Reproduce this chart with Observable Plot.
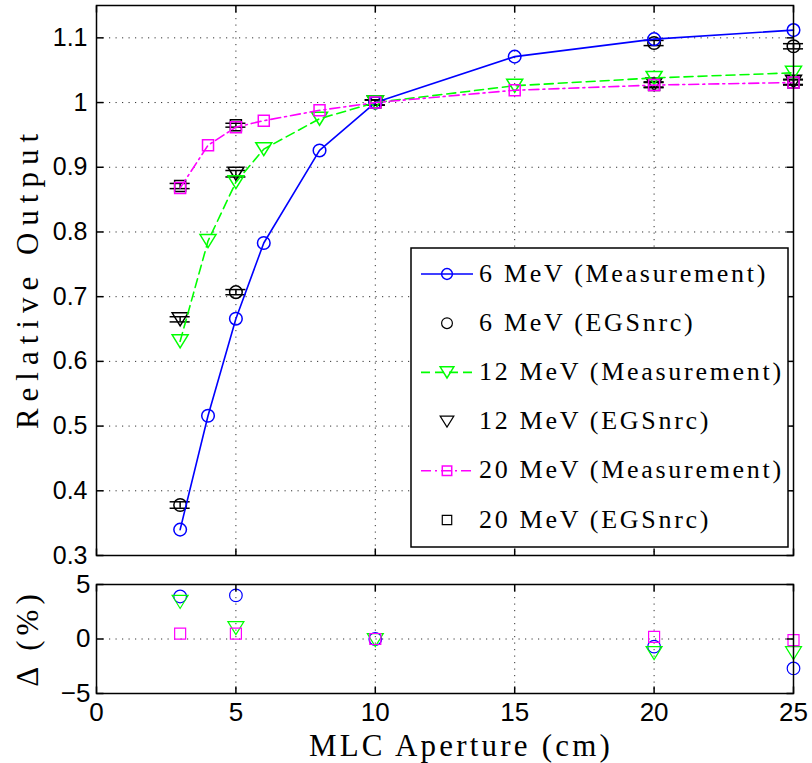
<!DOCTYPE html>
<html><head><meta charset="utf-8">
<script src="https://cdn.jsdelivr.net/npm/d3@7"></script>
<script src="https://cdn.jsdelivr.net/npm/@observablehq/plot@0.6"></script>
<style>
body{margin:0;background:#fff;}
#chart{position:relative;width:812px;height:763px;background:#fff;}
#chart > svg{position:absolute;left:0;}
.lbl{position:absolute;font-family:'Liberation Serif';line-height:1;white-space:nowrap;color:#000;}
</style></head><body><div id="chart"></div>
<script>
// ---- data ----
const apertures = [3, 4, 5, 6, 8, 10, 15, 20, 25];
const meas6  = [0.340, 0.516, 0.666, 0.783, 0.926, 1.000, 1.071, 1.098, 1.112];
const meas12 = [0.631, 0.786, 0.877, 0.928, 0.975, 1.000, 1.026, 1.038, 1.046];
const meas20 = [0.868, 0.934, 0.962, 0.972, 0.988, 1.000, 1.019, 1.027, 1.031];
const egsApertures = [3, 5, 10, 20, 25];
const egs6  = [0.378, 0.707, 1.000, 1.092, 1.087];
const egs12 = [0.665, 0.890, 1.000, 1.028, 1.032];
const egs20 = [0.871, 0.965, 1.000, 1.027, 1.031];
const egsErr6  = [0.005, 0.004, 0.004, 0.004, 0.004];
const egsErr12 = [0.004, 0.005, 0.004, 0.004, 0.004];
const egsErr20 = [0.004, 0.003, 0.004, 0.004, 0.004];
const diffApertures = [3, 5, 10, 20, 25];
const diff6  = [3.9, 4.0, 0.0, -0.7, -2.7];
const diff12 = [3.4, 1.0, -0.1, -1.3, -1.3];
const diff20 = [0.5, 0.5, 0.0, 0.2, -0.1];
const xTicks = [0, 5, 10, 15, 20, 25];
const xTickLabels = ["0", "5", "10", "15", "20", "25"];
const yTicks = [0.3, 0.4, 0.5, 0.6, 0.7, 0.8, 0.9, 1.0, 1.1];
const yTickLabels = ["0.3", "0.4", "0.5", "0.6", "0.7", "0.8", "0.9", "1", "1.1"];
const dTicks = [-5, 0, 5];
const dTickLabels = ["\u22125", "0", "5"];
const seriesNames = ["6 MeV (Measurement)", "6 MeV (EGSnrc)", "12 MeV (Measurement)", "12 MeV (EGSnrc)", "20 MeV (Measurement)", "20 MeV (EGSnrc)"];

// ---- styles ----
const C6 = "#0000ff", C12 = "#00ff00", C20 = "#ff00ff";
const capHalf = 0.36; // cm
const triDown = {draw(ctx, size) { const k = Math.sqrt(size / Math.PI) / 7; ctx.moveTo(-8*k, -6.5*k); ctx.lineTo(8*k, -6.5*k); ctx.lineTo(0, 6.5*k); ctx.closePath(); }};
const sq = {draw(ctx, size) { const h = Math.sqrt(size / Math.PI) * 5.5 / 7; ctx.rect(-h, -h, 2*h, 2*h); }};
const circ = {draw(ctx, size) { const r = Math.sqrt(size / Math.PI) * 6.3 / 7; ctx.moveTo(r, 0); ctx.arc(0, 0, r, 0, 2*Math.PI); }};
const tickUp = {draw(ctx) { ctx.moveTo(0, 0); ctx.lineTo(0, -7); }};
const tickDn = {draw(ctx) { ctx.moveTo(0, 0); ctx.lineTo(0, 7); }};
const tickRt = {draw(ctx) { ctx.moveTo(0, 0); ctx.lineTo(7, 0); }};
const tickLt = {draw(ctx) { ctx.moveTo(0, 0); ctx.lineTo(-7, 0); }};
const gridStyle = {stroke: "#333", strokeWidth: 1, strokeDasharray: "1.2,5.3"};

const measRows = apertures.map((a, i) => ({a, v6: meas6[i], v12: meas12[i], v20: meas20[i]}));
const egsRows = egsApertures.map((a, i) => ({a, v6: egs6[i], v12: egs12[i], v20: egs20[i], e6: egsErr6[i], e12: egsErr12[i], e20: egsErr20[i]}));
const diffRows = diffApertures.map((a, i) => ({a, d6: diff6[i], d12: diff12[i], d20: diff20[i]}));

function errMarks(key, ekey) {
  return [
    Plot.ruleX(egsRows, {x: "a", y1: d => d[key] - d[ekey], y2: d => d[key] + d[ekey], stroke: "black", strokeWidth: 1.5}),
    Plot.ruleY(egsRows, {y: d => d[key] + d[ekey], x1: d => d.a - capHalf, x2: d => d.a + capHalf, stroke: "black", strokeWidth: 1.5}),
    Plot.ruleY(egsRows, {y: d => d[key] - d[ekey], x1: d => d.a - capHalf, x2: d => d.a + capHalf, stroke: "black", strokeWidth: 1.5})
  ];
}
function frameTicks(xs, ys) {
  return [
    Plot.dot(xs, {x: d => d, frameAnchor: "bottom", symbol: tickUp, r: 7, stroke: "black", fill: "none"}),
    Plot.dot(xs, {x: d => d, frameAnchor: "top", symbol: tickDn, r: 7, stroke: "black", fill: "none"}),
    Plot.dot(ys, {y: d => d, frameAnchor: "left", symbol: tickRt, r: 7, stroke: "black", fill: "none"}),
    Plot.dot(ys, {y: d => d, frameAnchor: "right", symbol: tickLt, r: 7, stroke: "black", fill: "none"})
  ];
}

const topPlot = Plot.plot({
  width: 812, height: 570,
  marginTop: 5, marginBottom: 15, marginLeft: 96, marginRight: 19,
  style: {fontFamily: "Liberation Sans", fontSize: "25px", color: "black", background: "transparent"},
  x: {domain: [0, 25], axis: null},
  y: {domain: [0.3, 1.15], ticks: yTicks, tickFormat: (d, i) => yTickLabels[i], tickSize: 0, tickPadding: 9, label: null},
  marks: [
    Plot.ruleX(xTicks.slice(1, -1), {x: d => d, ...gridStyle}),
    Plot.ruleY(yTicks.slice(1), {y: d => d, ...gridStyle}),
    ...errMarks("v6", "e6"), ...errMarks("v12", "e12"), ...errMarks("v20", "e20"),
    Plot.dot(egsRows, {x: "a", y: "v6", symbol: circ, r: 7, stroke: "black", fill: "none", strokeWidth: 1.5}),
    Plot.dot(egsRows, {x: "a", y: "v12", symbol: triDown, r: 7, stroke: "black", fill: "none", strokeWidth: 1.5}),
    Plot.dot(egsRows, {x: "a", y: "v20", symbol: sq, r: 7, stroke: "black", fill: "none", strokeWidth: 1.5}),
    Plot.line(measRows, {x: "a", y: "v6", stroke: C6, strokeWidth: 1.6}),
    Plot.dot(measRows, {x: "a", y: "v6", symbol: circ, r: 7, stroke: C6, fill: "none", strokeWidth: 1.5}),
    Plot.line(measRows, {x: "a", y: "v12", stroke: C12, strokeWidth: 1.6, strokeDasharray: "9,5"}),
    Plot.dot(measRows, {x: "a", y: "v12", symbol: triDown, r: 7, stroke: C12, fill: "none", strokeWidth: 1.5}),
    Plot.line(measRows, {x: "a", y: "v20", stroke: C20, strokeWidth: 1.6, strokeDasharray: "10,4,2,4"}),
    Plot.dot(measRows, {x: "a", y: "v20", symbol: sq, r: 7, stroke: C20, fill: "none", strokeWidth: 1.5}),
    ...frameTicks(xTicks, yTicks),
    Plot.frame({stroke: "black", strokeWidth: 1.5})
  ]
});
topPlot.style.top = "0px";

const bottomPlot = Plot.plot({
  width: 812, height: 193,
  marginTop: 14, marginBottom: 70, marginLeft: 96, marginRight: 19,
  style: {fontFamily: "Liberation Sans", fontSize: "26px", color: "black", background: "transparent"},
  x: {domain: [0, 25], ticks: xTicks, tickFormat: (d, i) => xTickLabels[i], tickSize: 0, tickPadding: 9, label: null},
  y: {domain: [-5, 5], ticks: dTicks, tickFormat: (d, i) => dTickLabels[i], tickSize: 0, tickPadding: 6, label: null},
  marks: [
    Plot.ruleX(xTicks.slice(1, -1), {x: d => d, ...gridStyle}),
    Plot.ruleY([0], {y: d => d, ...gridStyle}),
    Plot.dot(diffRows, {x: "a", y: "d6", symbol: circ, r: 7, stroke: C6, fill: "none", strokeWidth: 1.2}),
    Plot.dot(diffRows, {x: "a", y: "d12", symbol: triDown, r: 7, stroke: C12, fill: "none", strokeWidth: 1.2}),
    Plot.dot(diffRows, {x: "a", y: "d20", symbol: sq, r: 7, stroke: C20, fill: "none", strokeWidth: 1.2}),
    ...frameTicks(xTicks, dTicks),
    Plot.frame({stroke: "black", strokeWidth: 1.5})
  ]
});
bottomPlot.style.top = "570px";

const chart = document.getElementById("chart");
chart.appendChild(topPlot);
chart.appendChild(bottomPlot);

// ---- overlay: legend box and samples (SVG) ----
const ov = d3.create("svg").attr("width", 812).attr("height", 763).style("top", "0px").style("pointer-events", "none");
const lg = ov.append("g");
lg.append("rect").attr("x", 411).attr("y", 248).attr("width", 377).attr("height", 299).attr("fill", "white").attr("stroke", "black").attr("stroke-width", 1.5);
const legendSpec = [
  {color: C6, dash: null, sym: circ, line: true},
  {color: "black", dash: null, sym: circ, line: false},
  {color: C12, dash: "9,5", sym: triDown, line: true},
  {color: "black", dash: null, sym: triDown, line: false},
  {color: C20, dash: "10,4,2,4", sym: sq, line: true},
  {color: "black", dash: null, sym: sq, line: false}
];
const legendY = i => 274 + 49.2 * i;
legendSpec.forEach((s, i) => {
  const y = legendY(i);
  if (s.line) lg.append("line").attr("x1", 421).attr("x2", 473).attr("y1", y).attr("y2", y)
    .attr("stroke", s.color).attr("stroke-width", 1.6).attr("stroke-dasharray", s.dash);
  lg.append("path").attr("transform", `translate(447,${y})`).attr("d", d3.symbol(s.sym, Math.PI * 36)())
    .attr("fill", "none").attr("stroke", s.color).attr("stroke-width", s.line ? 1.5 : 1.2);
});
chart.appendChild(ov.node());

// ---- HTML text: axis labels and legend labels ----
function addLabel(text, css) {
  const d = document.createElement("div");
  d.className = "lbl";
  d.textContent = text;
  Object.assign(d.style, css);
  chart.appendChild(d);
}
addLabel("Relative Output", {left: "27px", top: "278px", fontSize: "31px", letterSpacing: "7px",
  transform: "translate(-50%,-50%) rotate(-90deg)"});
addLabel("\u0394 (%)", {left: "27px", top: "638px", fontSize: "31px", letterSpacing: "5px",
  transform: "translate(-50%,-50%) rotate(-90deg)"});
addLabel("MLC Aperture (cm)", {left: "461px", top: "730px", fontSize: "31px", letterSpacing: "3.2px",
  transform: "translate(-50%,0)"});
seriesNames.forEach((name, i) => {
  addLabel(name, {left: "479px", top: (legendY(i) - 13.5) + "px", fontSize: "26px", letterSpacing: "2.7px"});
});
</script></body></html>
